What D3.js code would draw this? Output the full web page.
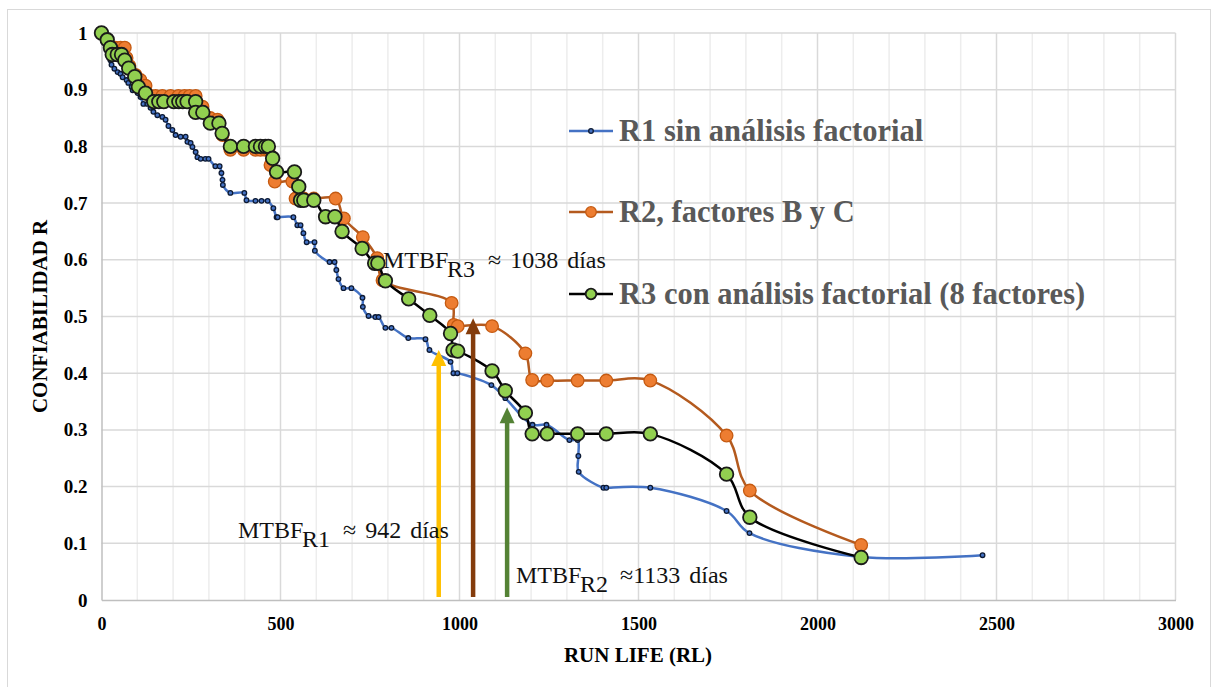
<!DOCTYPE html>
<html>
<head>
<meta charset="utf-8">
<script src="https://cdn.jsdelivr.net/npm/d3@7"></script>
<style>
  html, body { margin: 0; padding: 0; background: #fff; }
  svg { display: block; }
  .serif { font-family: "Liberation Serif", "Times New Roman", Tinos, "Nimbus Roman", "DejaVu Serif", serif; }
</style>
</head>
<body>
<svg id="chart" width="1212" height="687"></svg>
<script>
// ---- Reliability data: run life (days) and reliability R ----
const r1Days = [0,6,11,17,22,25,28,36,45,53,59,70,75,84,87,101,109,117,128,137,145,156,170,179,187,198,207,221,235,240,249,254,263,268,277,290,299,318,330,335,338,339,360,399,405,430,447,464,480,489,492,536,547,556,564,573,595,596,637,651,656,662,676,698,729,730,746,765,774,793,810,857,905,916,975,983,994,1089,1128,1204,1243,1307,1330,1332,1333,1402,1410,1533,1746,1810,2120,2461];
const r1Rel  = [1.000,0.991,0.982,0.972,0.961,0.952,0.944,0.937,0.931,0.928,0.922,0.917,0.912,0.905,0.899,0.894,0.887,0.875,0.875,0.868,0.861,0.855,0.852,0.847,0.836,0.829,0.820,0.817,0.817,0.808,0.806,0.799,0.790,0.781,0.778,0.778,0.778,0.765,0.765,0.753,0.741,0.732,0.718,0.718,0.705,0.704,0.704,0.704,0.691,0.675,0.675,0.675,0.661,0.661,0.647,0.631,0.631,0.616,0.596,0.596,0.582,0.566,0.550,0.550,0.533,0.517,0.501,0.499,0.499,0.480,0.480,0.462,0.460,0.441,0.420,0.400,0.400,0.379,0.356,0.309,0.309,0.282,0.282,0.254,0.226,0.198,0.198,0.198,0.157,0.118,0.076,0.079];

const r2Days = [0,16,25,39,53,65,70,78,95,109,123,137,151,170,193,215,232,246,263,263,282,304,324,338,360,397,430,444,458,466,472,484,533,542,556,565,593,654,677,730,770,785,978,984,995,1091,1184,1203,1245,1330,1410,1533,1746,1811,2122];
const r2Rel  = [1.000,0.988,0.974,0.974,0.974,0.974,0.956,0.942,0.926,0.917,0.907,0.889,0.889,0.889,0.889,0.889,0.889,0.889,0.889,0.868,0.870,0.850,0.847,0.820,0.794,0.794,0.794,0.794,0.794,0.794,0.767,0.738,0.738,0.708,0.708,0.708,0.708,0.708,0.673,0.640,0.603,0.564,0.524,0.485,0.483,0.483,0.435,0.388,0.387,0.387,0.387,0.387,0.290,0.193,0.097];

const r3Days = [0,16,25,30,44,56,65,76,93,103,123,146,160,174,202,216,227,239,263,263,283,304,328,337,360,397,430,444,458,466,478,489,539,551,556,565,593,626,652,672,728,763,772,793,858,917,975,982,995,1091,1128,1184,1203,1245,1330,1410,1533,1746,1811,2122];
const r3Rel  = [1.000,0.988,0.974,0.962,0.962,0.962,0.952,0.938,0.923,0.905,0.894,0.879,0.879,0.879,0.879,0.879,0.879,0.879,0.879,0.860,0.860,0.841,0.841,0.823,0.800,0.800,0.800,0.800,0.800,0.800,0.779,0.755,0.755,0.729,0.705,0.705,0.705,0.676,0.676,0.650,0.620,0.594,0.594,0.563,0.531,0.502,0.470,0.441,0.439,0.404,0.369,0.330,0.293,0.293,0.293,0.293,0.293,0.222,0.146,0.075];

const seriesNames = ["R1 sin análisis factorial", "R2, factores B y C", "R3 con análisis factorial (8 factores)"];

// MTBF markers (days), their subscripts and the reliability where each arrow ends
const mtbfDays  = [942, 1038, 1133];
const mtbfSubs  = ["R1", "R3", "R2"];
const mtbfTexts = ["≈ 942 días", "≈ 1038 días", "≈1133 días"];
const mtbfTipR  = [0.441, 0.497, 0.340];

const xTicks = [0, 500, 1000, 1500, 2000, 2500, 3000];
const yTicks = [0, 0.1, 0.2, 0.3, 0.4, 0.5, 0.6, 0.7, 0.8, 0.9, 1];

// ---- Layout ----
const svg = d3.select("#chart");
const plot = { left: 101.5, right: 1175.5, top: 33, bottom: 600 };

const x = d3.scaleLinear().domain([0, 3000]).range([plot.left, plot.right]);
const y = d3.scaleLinear().domain([0, 1]).range([plot.bottom, plot.top]);

// chart frame (bottom edge falls just outside the canvas)
svg.append("rect")
  .attr("x", 7.5).attr("y", 9.5)
  .attr("width", 1203).attr("height", 690)
  .attr("fill", "#fff").attr("stroke", "#D9D9D9").attr("stroke-width", 1);

// grid: minor verticals every 100 days, major every 500, horizontals every 0.1
const grid = svg.append("g");
grid.selectAll("line.vminor")
  .data(d3.range(100, 3000, 100).filter(d => d % 500 !== 0))
  .join("line")
  .attr("x1", d => x(d)).attr("x2", d => x(d))
  .attr("y1", plot.top).attr("y2", plot.bottom)
  .attr("stroke", "#EDEDED").attr("stroke-width", 1.5);
grid.selectAll("line.vmajor")
  .data(xTicks.filter(d => d > 0))
  .join("line")
  .attr("x1", d => x(d)).attr("x2", d => x(d))
  .attr("y1", plot.top).attr("y2", plot.bottom)
  .attr("stroke", "#D9D9D9").attr("stroke-width", 1.5);
grid.selectAll("line.h")
  .data(yTicks.filter(d => d > 0))
  .join("line")
  .attr("x1", plot.left).attr("x2", plot.right)
  .attr("y1", d => y(d)).attr("y2", d => y(d))
  .attr("stroke", "#D9D9D9").attr("stroke-width", 1.5);

// axes
const xAxis = svg.append("g")
  .attr("transform", `translate(0,${plot.bottom})`)
  .call(d3.axisBottom(x).tickValues(xTicks).tickSize(0).tickPadding(17).tickFormat(d3.format("d")));
xAxis.attr("font-family", null);
xAxis.select(".domain").attr("stroke", "#BFBFBF").attr("stroke-width", 1.5);
xAxis.selectAll("text")
  .attr("class", "serif").attr("font-weight", "bold").attr("font-size", 18).attr("fill", "#000");

const yAxis = svg.append("g")
  .attr("transform", `translate(${plot.left},0)`)
  .call(d3.axisLeft(y).tickValues(yTicks).tickSize(0).tickPadding(14)
    .tickFormat(d => d === 0 ? "0" : d === 1 ? "1" : d.toFixed(1)));
yAxis.attr("font-family", null);
yAxis.select(".domain").attr("stroke", "#BFBFBF").attr("stroke-width", 1.5);
yAxis.selectAll("text")
  .attr("class", "serif").attr("font-weight", "bold").attr("font-size", 19).attr("fill", "#000");

// axis titles
svg.append("text")
  .attr("class", "serif")
  .attr("x", 638).attr("y", 662)
  .attr("text-anchor", "middle")
  .attr("font-weight", "bold").attr("font-size", 21)
  .attr("fill", "#000")
  .text("RUN LIFE (RL)");
svg.append("text")
  .attr("class", "serif")
  .attr("transform", `translate(47,${(plot.top + plot.bottom) / 2}) rotate(-90)`)
  .attr("text-anchor", "middle")
  .attr("font-weight", "bold").attr("font-size", 21)
  .attr("fill", "#000")
  .text("CONFIABILIDAD R");

// ---- Series ----
const series = [
  { name: seriesNames[0], pts: d3.zip(r1Days, r1Rel), line: "#4472C4", lw: 2.5, fill: "#4472C4", stroke: "#0D1A33", r: 2.3, sw: 1.3 },
  { name: seriesNames[1], pts: d3.zip(r2Days, r2Rel), line: "#B45A1E", lw: 2.5, fill: "#ED7D31", stroke: "#C55A11", r: 6.3, sw: 1.3 },
  { name: seriesNames[2], pts: d3.zip(r3Days, r3Rel), line: "#000000", lw: 2.5, fill: "#92D050", stroke: "#1A1A1A", r: 6.8, sw: 1.8 }
];

const lineGen = d3.line()
  .x(d => x(d[0])).y(d => y(d[1]))
  .curve(d3.curveCatmullRom.alpha(0.5));

series.forEach(s => {
  const g = svg.append("g");
  g.append("path")
    .attr("d", lineGen(s.pts))
    .attr("fill", "none").attr("stroke", s.line).attr("stroke-width", s.lw)
    .attr("stroke-linejoin", "round").attr("stroke-linecap", "round");
  g.selectAll("circle")
    .data(s.pts)
    .join("circle")
    .attr("cx", d => x(d[0])).attr("cy", d => y(d[1]))
    .attr("r", s.r)
    .attr("fill", s.fill).attr("stroke", s.stroke).attr("stroke-width", s.sw);
});

// ---- Legend ----
const legendY = [131, 212, 294];
const legend = svg.append("g");
series.forEach((s, i) => {
  const ly = legendY[i];
  legend.append("line")
    .attr("x1", 569).attr("x2", 613).attr("y1", ly).attr("y2", ly)
    .attr("stroke", s.line).attr("stroke-width", s.lw);
  legend.append("circle")
    .attr("cx", 591).attr("cy", ly)
    .attr("r", i === 0 ? 2.3 : 5.3)
    .attr("fill", s.fill).attr("stroke", s.stroke).attr("stroke-width", s.sw);
  legend.append("text")
    .attr("class", "serif")
    .attr("x", 619).attr("y", ly + 10)
    .attr("font-weight", "bold").attr("font-size", 30.5)
    .attr("fill", "#595959")
    .text(s.name);
});

// ---- MTBF arrows and labels ----
const arrowColors = ["#FFC000", "#843C0C", "#548235"];
// label pieces: [x of "MTBF", x of subscript, x of value text, baseline]
const labelPos = [[238, 302, 343, 538], [383, 447, 488, 268], [516, 580, 620, 583]];
const headLen = 16, headHalf = 7.5;

mtbfDays.forEach((d, i) => {
  const ax = x(d), tip = y(mtbfTipR[i]);
  svg.append("line")
    .attr("x1", ax).attr("x2", ax)
    .attr("y1", y(0) - 3).attr("y2", tip + headLen - 1)
    .attr("stroke", arrowColors[i]).attr("stroke-width", 4.5);
  svg.append("path")
    .attr("d", `M${ax},${tip} L${ax + headHalf},${tip + headLen} L${ax - headHalf},${tip + headLen} Z`)
    .attr("fill", arrowColors[i]);

  const [mx, sx, vx, base] = labelPos[i];
  const t = svg.append("text")
    .attr("class", "serif")
    .attr("y", base)
    .attr("font-size", 24).attr("fill", "#111");
  t.append("tspan").attr("x", mx).text("MTBF");
  t.append("tspan").attr("x", sx).attr("dy", 9).text(mtbfSubs[i]);
  t.append("tspan").attr("x", vx).attr("dy", -9).attr("word-spacing", 3).text(mtbfTexts[i]);
});
</script>
</body>
</html>
